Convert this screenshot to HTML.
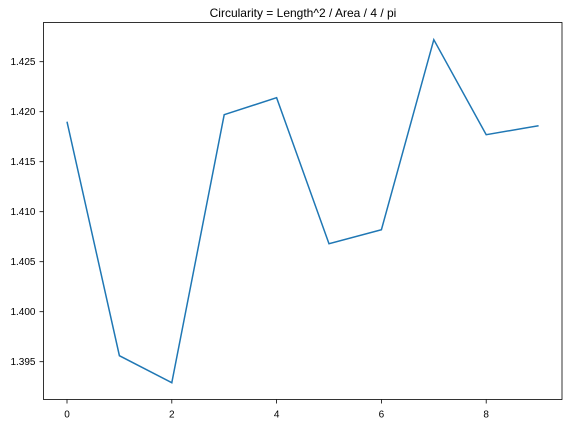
<!DOCTYPE html>
<html><head><style>
body{margin:0;background:#fff;}
svg text{font-family:"Liberation Sans","DejaVu Sans",sans-serif;fill:#000;}
</style></head><body>
<svg id="chart" width="568" height="424" xmlns="http://www.w3.org/2000/svg">
<rect width="568" height="424" fill="#fff"/>
<text x="303" y="17" font-size="12" text-anchor="middle">Circularity = Length^2 / Area / 4 / pi</text>
<g id="axes"></g>
</svg>
<script>
const xValues=[0,1,2,3,4,5,6,7,8,9];
const yValues=[1.4190,1.3956,1.3929,1.4197,1.4214,1.4068,1.4082,1.4272,1.4177,1.4186];
const xTicks=[0,2,4,6,8];
const yTicks=[1.395,1.400,1.405,1.410,1.415,1.420,1.425];
const L=43.5,R=562,T=22.5,B=399.5;
const xs=v=>67+v*52.4;
const ys=v=>361.7-(v-1.395)*10000;
const NS="http://www.w3.org/2000/svg";
const g=document.getElementById('axes');
function mk(t,a){const e=document.createElementNS(NS,t);for(const k in a)e.setAttribute(k,a[k]);g.appendChild(e);return e;}
xTicks.forEach(v=>{
 const t=mk('line',{x1:xs(v),x2:xs(v),y1:B,y2:B+4,stroke:'#000','stroke-width':0.8});
 
 
 const l=mk('text',{x:xs(v),y:B+18,'font-size':10,'text-anchor':'middle'});l.textContent=v;
 
 
});
yTicks.forEach(v=>{
 const t=mk('line',{x1:L-4,x2:L,y1:ys(v),y2:ys(v),stroke:'#000','stroke-width':0.8});
 
 
 const l=mk('text',{x:L-8,y:ys(v)+3.5,'font-size':10,'text-anchor':'end'});l.textContent=v.toFixed(3);
 
 
});
const p=mk('polyline',{points:xValues.map((x,i)=>xs(x)+','+ys(yValues[i])).join(' '),fill:'none',stroke:'#1f77b4','stroke-width':1.5});


const f=mk('rect',{x:L,y:T,width:R-L,height:B-T,fill:'none',stroke:'#000','stroke-width':0.8});


</script>
</body></html>
